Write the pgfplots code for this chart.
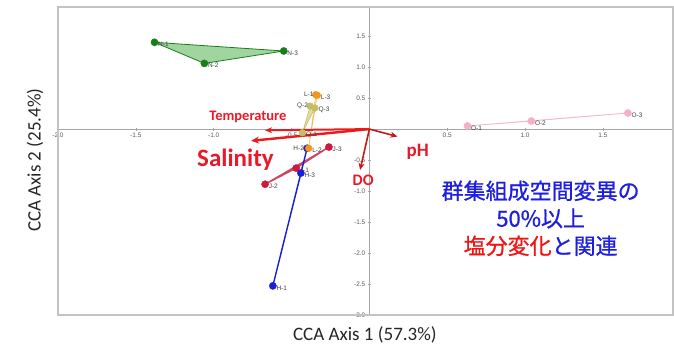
\documentclass[border=0pt]{standalone}
\usepackage{pgfplots}
\pgfplotsset{compat=1.18}
\usetikzlibrary{arrows.meta}
\usepackage{fontspec}
\setmainfont{Carlito}
\newfontfamily\arial{Liberation Sans}
\newfontfamily\jp{Noto Sans CJK JP}[FakeBold=0.8]
\definecolor{axgray}{RGB}{165,165,165}
\definecolor{framegray}{RGB}{195,195,195}
\definecolor{arrred}{RGB}{232,28,28}
\definecolor{txtred}{RGB}{232,25,40}
\definecolor{jpblue}{RGB}{30,30,225}
\definecolor{jpred}{RGB}{240,20,20}
\definecolor{gdark}{RGB}{25,125,25}
\definecolor{gfill}{RGB}{120,195,120}
\definecolor{orng}{RGB}{245,150,25}
\definecolor{khaki}{RGB}{195,190,100}
\definecolor{kfill}{RGB}{215,212,140}
\definecolor{crim}{RGB}{205,25,60}
\definecolor{crimline}{RGB}{205,70,100}
\definecolor{hblue}{RGB}{25,30,215}
\definecolor{opink}{RGB}{245,175,200}
\definecolor{opinkline}{RGB}{245,185,205}
\begin{document}
\begin{tikzpicture}
\path[use as bounding box] (-58pt,-32pt) rectangle (616pt,315pt);
\begin{axis}[
  scale only axis, width=615pt, height=308pt,
  xmin=-2.0, xmax=1.95, ymin=-3.0, ymax=1.97,
  axis lines=center,
  axis line style={-, draw=axgray, line width=1.1pt},
  clip=false,
  xtick={-2,-1.5,-1,-0.5,0.5,1,1.5},
  ytick={-3,-2.5,-2,-1.5,-1,-0.5,0.5,1,1.5},
  tick style={axgray, line width=0.6pt},
  major tick length=3pt,
  ticklabel style={font=\arial\fontsize{6.5}{7}\selectfont, text=black!65},
  xticklabel style={yshift=1pt},
  yticklabel style={xshift=1pt},
  /pgf/number format/fixed,
  /pgf/number format/fixed zerofill,
  /pgf/number format/precision=1,
  /pgf/number format/assume math mode=true,
  every node near coord/.append style={font=\arial\fontsize{6.5}{7}\selectfont, text=black!75, inner sep=1pt},
]
\draw[framegray, line width=1.1pt] (rel axis cs:0,0) rectangle (rel axis cs:1,1);
% hulls
\addplot[draw=gdark, line width=0.8pt, fill=gfill, fill opacity=0.7] coordinates {(-1.38,1.40) (-1.06,1.06) (-0.55,1.26)} -- cycle;
\addplot[draw=orng, line width=0.5pt, fill=orng, fill opacity=0.3, draw opacity=0.6] coordinates {(-0.345,0.555) (-0.335,0.545) (-0.39,-0.31)} -- cycle;
\addplot[draw=khaki, line width=0.6pt, fill=kfill, fill opacity=0.8] coordinates {(-0.43,-0.06) (-0.38,0.37) (-0.35,0.34)} -- cycle;
\addplot[draw=crimline, line width=1.4pt, fill=crimline, fill opacity=0.4] coordinates {(-0.47,-0.63) (-0.67,-0.89) (-0.26,-0.29)} -- cycle;
\addplot[draw=hblue, line width=1.4pt, fill=hblue, fill opacity=0.4] coordinates {(-0.62,-2.53) (-0.40,-0.31) (-0.44,-0.71)} -- cycle;
\addplot[draw=opinkline, line width=0.9pt] coordinates {(0.63,0.05) (1.04,0.13) (1.66,0.26)} -- cycle;
% arrows
\addplot[arrred, line width=2pt, -{Stealth[length=7pt,width=6pt]}] coordinates {(0,0) (-0.67,-0.02)};
\addplot[arrred, line width=2.4pt, -{Stealth[length=8pt,width=7pt]}] coordinates {(0,0) (-0.76,-0.19)};
\addplot[arrred!85!black, line width=1.6pt, -{Stealth[length=7pt,width=6pt]}] coordinates {(0,0) (0.18,-0.12)};
\addplot[arrred!85!black, line width=1.6pt, -{Stealth[length=7pt,width=6pt]}] coordinates {(0,0) (-0.06,-0.66)};
% points
\addplot[only marks, mark=*, mark size=3.6pt, color=gdark, nodes near coords, point meta=explicit symbolic,
  every node near coord/.append style={anchor=west, yshift=-2pt, xshift=2.5pt}] table[meta=l] {
x y l
-1.38 1.40 N-1
-1.06 1.06 N-2
-0.55 1.26 N-3
};
\addplot[only marks, mark=*, mark size=3.4pt, color=khaki, nodes near coords, point meta=explicit symbolic,
  every node near coord/.append style={anchor=west, yshift=-2pt, xshift=2.5pt}] table[meta=l] {
x y l
-0.43 -0.06 Q-1
-0.35 0.34 Q-3
};
\addplot[only marks, mark=*, mark size=3.4pt, color=khaki, nodes near coords, point meta=explicit symbolic,
  every node near coord/.append style={anchor=east, yshift=0pt, xshift=-1pt}] table[meta=l] {
x y l
-0.38 0.37 Q-2
};
\addplot[only marks, mark=*, mark size=3.6pt, color=crim, nodes near coords, point meta=explicit symbolic,
  every node near coord/.append style={anchor=west, yshift=-2pt, xshift=2.5pt}] table[meta=l] {
x y l
-0.47 -0.63 J-1
-0.67 -0.89 J-2
-0.26 -0.29 J-3
};
\addplot[only marks, mark=*, mark size=3.6pt, color=hblue, nodes near coords, point meta=explicit symbolic,
  every node near coord/.append style={anchor=west, yshift=-2pt, xshift=2.5pt}] table[meta=l] {
x y l
-0.62 -2.53 H-1
-0.44 -0.71 H-3
};
\addplot[only marks, mark=*, mark size=3.6pt, color=hblue, nodes near coords, point meta=explicit symbolic,
  every node near coord/.append style={anchor=east, yshift=0pt, xshift=-2pt}] table[meta=l] {
x y l
-0.40 -0.31 H-2
};
\addplot[only marks, mark=*, mark size=3.4pt, color=orng, nodes near coords, point meta=explicit symbolic,
  every node near coord/.append style={anchor=west, yshift=-2pt, xshift=2.5pt}] table[meta=l] {
x y l
-0.335 0.545 L-3
-0.39 -0.31 L-2
};
\addplot[only marks, mark=*, mark size=3.4pt, color=orng, nodes near coords, point meta=explicit symbolic,
  every node near coord/.append style={anchor=east, yshift=0pt, xshift=-1pt}] table[meta=l] {
x y l
-0.345 0.555 L-1
};
\addplot[only marks, mark=*, mark size=3.6pt, color=opink, nodes near coords, point meta=explicit symbolic,
  every node near coord/.append style={anchor=west, yshift=-2pt, xshift=2.5pt}] table[meta=l] {
x y l
0.63 0.05 O-1
1.04 0.13 O-2
1.66 0.26 O-3
};
% labels
\node[text=txtred, font=\bfseries\fontsize{14.5}{15}\selectfont] at (axis cs:-0.78,0.20) {Temperature};
\node[text=txtred, font=\bfseries\fontsize{25}{26}\selectfont] at (axis cs:-0.86,-0.50) {Salinity};
\node[text=txtred, font=\bfseries\fontsize{19}{20}\selectfont] at (axis cs:0.31,-0.36) {pH};
\node[text=txtred, font=\bfseries\fontsize{16}{17}\selectfont, inner sep=0pt] at (axis cs:-0.04,-0.82) {DO};
\node[align=center, text=jpblue, font=\jp\fontsize{22}{27.5}\selectfont] at (axis cs:1.10,-1.44)
  {群集組成空間変異の\\50\%以上\\{\color{jpred}塩分変化}と関連};
% axis titles
\node[text=black!85, font=\fontsize{19}{20}\selectfont] at (rel axis cs:0.499,-0.065) {CCA Axis 1 (57.3\%)};
\node[text=black!85, font=\fontsize{19}{20}\selectfont, rotate=90] at (rel axis cs:-0.0374,0.503) {CCA Axis 2 (25.4\%)};
\end{axis}
\end{tikzpicture}
\end{document}
